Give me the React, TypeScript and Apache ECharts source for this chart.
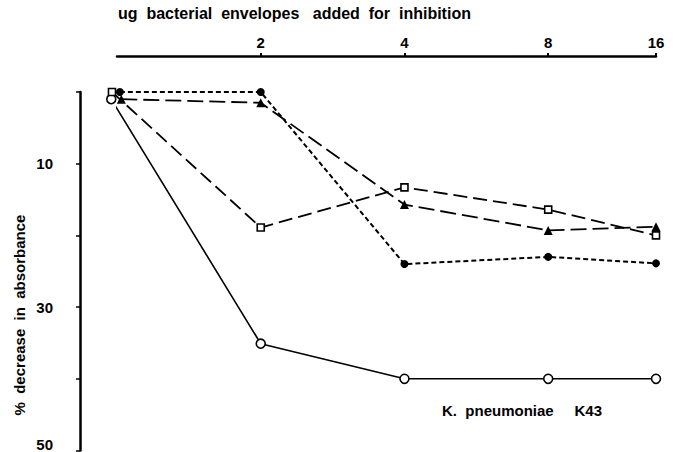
import React, { useEffect, useRef } from "react";
import * as echarts from "echarts";

// Printed dose axis (µg bacterial envelopes); positions
const doseLabels = ["", "2", "4", "8", "16"];
const dosePosition = [0, 1, 2, 3, 3.75];

// % decrease in absorbance, per series
const openCircle = [1, 35.1, 40, 40, 40];
const openSquare = [0, 18.9, 13.3, 16.4, 20.0];
const filledTriangle = [1, 1.5, 15.7, 19.3, 18.8];
const filledCircle = [0, 0, 24.0, 23.0, 23.9];

// small horizontal offsets of the overlapping first markers, as printed
const firstOffset = { openCircle: -0.04, openSquare: -0.035, filledTriangle: 0.03, filledCircle: 0.02 };

const yLabelsShown = [10, 30, 50];

const FONT = "Liberation Sans";

function pts(vals: number[], off: number) {
  return vals.map((v, i) => [dosePosition[i] + (i === 0 ? off : 0), v]);
}

export default function App() {
  const ref = useRef<HTMLDivElement>(null);
  useEffect(() => {
    if (!ref.current) return;
    const chart = echarts.init(ref.current, null, { renderer: "svg" });
    const labelMap: Record<string, string> = {};
    dosePosition.forEach((p, i) => (labelMap[String(p)] = doseLabels[i]));
    const base = {
      type: "line",
      z: 3,
      clip: false,
    };
    chart.setOption({
      animation: false,
      backgroundColor: "#fff",
      grid: { left: 117, right: 21, top: 92, bottom: 0, containLabel: false },
      xAxis: {
        type: "value",
        position: "top",
        offset: 36,
        min: 0,
        max: 3.75,
        splitLine: { show: false },
        axisLine: { show: true, onZero: false, lineStyle: { color: "#000", width: 2.5 } },
        axisTick: {
          show: true,
          customValues: dosePosition.slice(1),
          length: 3,
          lineStyle: { color: "#000", width: 2 },
        },
        axisLabel: {
          customValues: dosePosition.slice(1),
          formatter: (v: number) => labelMap[String(v)] ?? "",
          color: "#000",
          fontFamily: FONT,
          fontWeight: "bold",
          fontSize: 15,
          margin: 6,
        },
      },
      yAxis: {
        type: "value",
        inverse: true,
        min: 0,
        max: 50,
        interval: 10,
        offset: 37,
        splitLine: { show: false },
        axisLine: { show: true, onZero: false, lineStyle: { color: "#000", width: 2.5 } },
        axisTick: { show: true, length: 4, inside: false, lineStyle: { color: "#000", width: 1.5 } },
        axisLabel: {
          color: "#000",
          fontFamily: FONT,
          fontWeight: "bold",
          fontSize: 15,
          margin: 27,
          showMinLabel: true,
          showMaxLabel: true,
          formatter: (v: number) =>
            yLabelsShown.includes(v) ? (v === 50 ? "{b|" + v + "}" : String(v)) : "",
          rich: { b: { fontFamily: FONT, fontWeight: "bold", fontSize: 15, color: "#000", padding: [0, 0, 12, 0] } },
        },
      },
      series: [
        {
          ...base,
          name: "open circle",
          data: pts(openCircle, firstOffset.openCircle),
          symbol: "circle",
          symbolSize: 9,
          lineStyle: { color: "#000", width: 1.6, type: "solid" },
          itemStyle: { color: "#fff", borderColor: "#000", borderWidth: 1.6 },
        },
        {
          ...base,
          name: "open square",
          data: pts(openSquare, firstOffset.openSquare),
          symbol: "rect",
          symbolSize: 7,
          lineStyle: { color: "#000", width: 1.8, type: [14, 6] },
          itemStyle: { color: "#fff", borderColor: "#000", borderWidth: 1.6 },
        },
        {
          ...base,
          name: "filled triangle",
          data: pts(filledTriangle, firstOffset.filledTriangle),
          symbol: "triangle",
          symbolSize: 9,
          lineStyle: { color: "#000", width: 1.8, type: [16, 6] },
          itemStyle: { color: "#000", borderColor: "#000", borderWidth: 0 },
        },
        {
          ...base,
          name: "filled circle",
          data: pts(filledCircle, firstOffset.filledCircle),
          symbol: "circle",
          symbolSize: 8,
          lineStyle: { color: "#000", width: 2, type: [5, 3] },
          itemStyle: { color: "#000", borderColor: "#000", borderWidth: 0 },
        },
      ],
      graphic: [
        {
          type: "text",
          left: 118,
          top: 5,
          style: {
            text: "ug  bacterial  envelopes   added  for  inhibition",
            fill: "#000",
            font: `bold 16px "${FONT}"`,
          },
        },
        {
          type: "text",
          x: 19,
          y: 315,
          rotation: Math.PI / 2,
          style: {
            text: "%  decrease  in  absorbance",
            fill: "#000",
            font: `bold 15px "${FONT}"`,
            align: "center",
            verticalAlign: "middle",
          },
        },
        {
          type: "text",
          left: 442,
          top: 403,
          style: {
            text: "K.  pneumoniae     K43",
            fill: "#000",
            font: `bold 15px "${FONT}"`,
          },
        },
      ],
    });
    return () => chart.dispose();
  }, []);
  return (
    <div
      ref={ref}
      style={{ position: "fixed", left: 0, top: 0, width: 677, height: 452, background: "#fff" }}
    />
  );
}
